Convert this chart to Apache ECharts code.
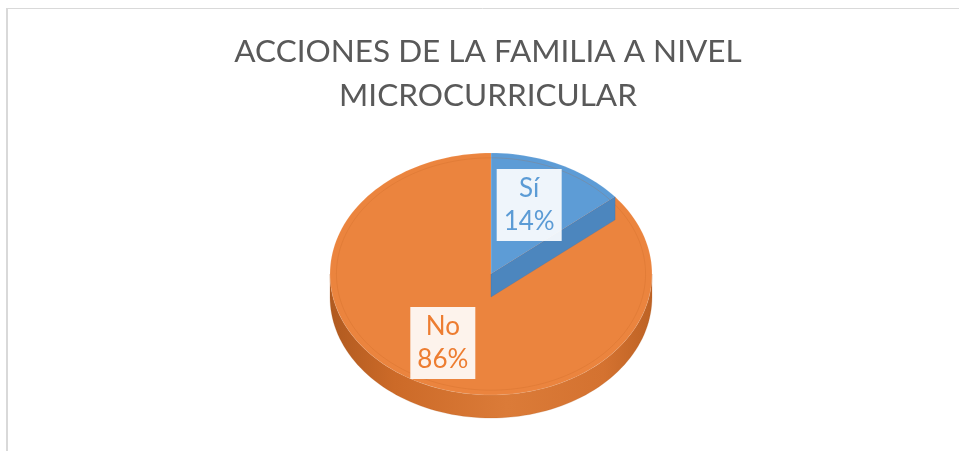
<!DOCTYPE html>
<html>
<head>
<meta charset="utf-8">
<title>Acciones de la familia a nivel microcurricular</title>
<script src="https://cdn.jsdelivr.net/npm/echarts@6/dist/echarts.min.js"></script>
<style>
  html, body { margin: 0; padding: 0; background: #fff; }
  #main { width: 959px; height: 451px; }
</style>
</head>
<body>
<div id="main"></div>
<script>
  // Data
  var categories = ['Sí', 'No'];
  var values = [14, 86];
  var topColors = ['#5D9CD6', '#EB843E'];
  var sideColors = ['#4C86BE', '#CC6A28'];
  var labelColors = ['#5B9BD5', '#ED7D31'];
  var titleText = 'ACCIONES DE LA FAMILIA A NIVEL\nMICROCURRICULAR';

  // Global Variables
  var myChart;
  var geo = { cx: 491, cy: 274, rx: 161, ry: 121, depth: 23 };

  /**
   * @name sliceAngles
   * @desc start / end angles (degrees, clockwise from 12 o'clock) of a slice
   * @param {number} idx data index
   * @return {array} [start, end]
   */
  function sliceAngles(idx) {
    var total = 0, before = 0, i;
    for (i = 0; i < values.length; i++) {
      total += values[i];
      if (i < idx) { before += values[i]; }
    }
    return [before / total * 360, (before + values[idx]) / total * 360];
  }

  function pt(deg, dy, k) {
    var r = deg * Math.PI / 180;
    k = k === undefined ? 1 : k;
    return [geo.cx + geo.rx * k * Math.sin(r), geo.cy - geo.ry * k * Math.cos(r) + (dy || 0)];
  }

  function arcPoints(a0, a1, dy, k) {
    var pts = [], steps = Math.max(2, Math.ceil(Math.abs(a1 - a0) / 2)), i;
    for (i = 0; i <= steps; i++) {
      pts.push(pt(a0 + (a1 - a0) * i / steps, dy, k));
    }
    return pts;
  }

  /**
   * @name renderSide
   * @desc draws the visible front wall of each slice
   */
  function renderSide(params, api) {
    var idx = params.dataIndex,
      ang = sliceAngles(idx),
      a0 = Math.max(ang[0], 90),
      a1 = Math.min(ang[1], 270),
      pts;
    if (a1 <= a0) { return { type: 'group', children: [] }; }
    pts = arcPoints(a0, a1, 0).concat(arcPoints(a1, a0, geo.depth));
    return {
      type: 'polygon',
      shape: { points: pts },
      style: {
        fill: new echarts.graphic.LinearGradient(0, 0, 1, 0, [
          { offset: 0, color: '#B05A20' },
          { offset: 0.2, color: sideColors[idx] },
          { offset: 0.55, color: '#DB7B38' },
          { offset: 0.85, color: '#D47230' },
          { offset: 1, color: '#BD6224' }
        ]),
        stroke: 'rgba(170,85,25,0.4)',
        lineWidth: 0.5
      }
    };
  }

  /**
   * @name renderTop
   * @desc draws the top face of each slice and its label
   */
  function renderTop(params, api) {
    var idx = params.dataIndex,
      ang = sliceAngles(idx),
      mid = (ang[0] + ang[1]) / 2,
      children = [],
      pts = arcPoints(ang[0], ang[1], 0),
      lp = pt(mid, 0, 0.63),
      pct = Math.round(api.value(0) / values.reduce(function (a, b) { return a + b; }, 0) * 100),
      e;

    pts.unshift([geo.cx, geo.cy]);
    children.push({
      type: 'polygon',
      shape: { points: pts },
      style: { fill: topColors[idx], stroke: 'rgba(255,255,255,0.25)', lineWidth: 0.5 }
    });
    // faint bevel ring
    children.push({
      type: 'polyline',
      shape: { points: arcPoints(ang[0], ang[1], 0, 0.96) },
      style: { stroke: 'rgba(190,95,30,0.2)', fill: null, lineWidth: 1 }
    });
    // small slice: cut face towards the viewer, drawn over the next slice
    if (ang[1] < 90) {
      e = pt(ang[1]);
      children.push({
        type: 'polygon',
        shape: { points: [[geo.cx, geo.cy], e, [e[0], e[1] + geo.depth], [geo.cx, geo.cy + geo.depth]] },
        style: { fill: sideColors[idx], stroke: 'rgba(60,110,170,0.6)', lineWidth: 0.5 },
        z2: 5
      });
    }
    children.push({
      type: 'text',
      x: lp[0] - 5,
      y: lp[1],
      style: {
        text: categories[idx] + '\n' + pct + '%',
        fill: labelColors[idx],
        fontSize: 26,
        fontFamily: 'Lato, "Open Sans", sans-serif',
        lineHeight: 33,
        align: 'center',
        verticalAlign: 'middle',
        backgroundColor: 'rgba(255,255,255,0.9)',
        padding: [3, 7, 3, 7]
      },
      z2: 10
    });
    return { type: 'group', children: children };
  }

  function initialize() {
    myChart = echarts.init(document.getElementById('main'), null, { renderer: 'canvas' });

    var seriesData = values.map(function (v, i) { return { name: categories[i], value: [v, i] }; });

    var option = {
      animation: false,
      backgroundColor: '#fff',
      title: {
        text: titleText,
        left: 488,
        textAlign: 'center',
        top: 30,
        padding: 0,
        textStyle: {
          fontSize: 31.5,
          fontWeight: 'normal',
          fontFamily: 'Lato, "Open Sans", sans-serif',
          color: '#595959',
          lineHeight: 44
        }
      },
      graphic: [
        { type: 'line', shape: { x1: 6, y1: 8.5, x2: 959, y2: 8.5 }, style: { stroke: '#D9D9D9', lineWidth: 1 } },
        { type: 'line', shape: { x1: 7, y1: 8, x2: 7, y2: 451 }, style: { stroke: '#D9D9D9', lineWidth: 2 } }
      ],
      series: [
        {
          name: 'side',
          type: 'custom',
          coordinateSystem: 'none',
          renderItem: renderSide,
          data: seriesData,
          z: 1
        },
        {
          name: 'top',
          type: 'custom',
          coordinateSystem: 'none',
          renderItem: renderTop,
          data: seriesData,
          z: 2
        }
      ]
    };

    myChart.setOption(option);
  }

  initialize();
</script>
</body>
</html>
